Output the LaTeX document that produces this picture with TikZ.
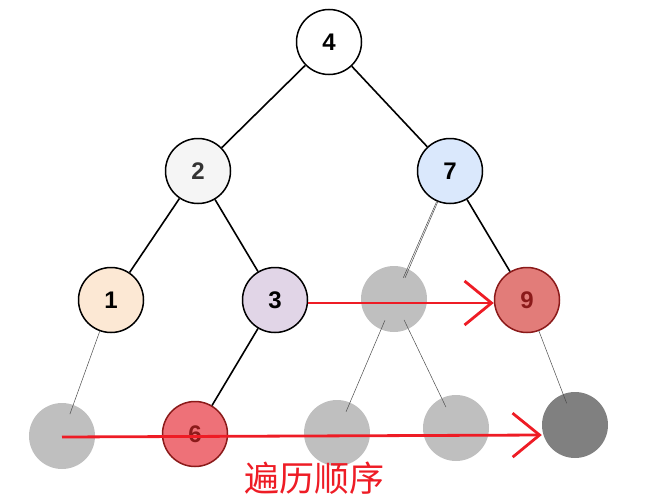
\documentclass[tikz,border=0pt]{standalone}
\usepackage{fontspec}
\setmainfont{Liberation Sans}
\newfontfamily\cjk{Noto Sans CJK SC}
\usetikzlibrary{arrows.meta}
\definecolor{nodered}{HTML}{8B1A1A}
\definecolor{arrowred}{HTML}{EE1C25}

\begin{document}
\begin{tikzpicture}[x=1pt,y=-1pt,
  tnode/.style={circle, draw=black, line width=1.5pt, minimum size=65pt, inner sep=0pt,
    font=\fontsize{24}{28}\selectfont\bfseries},
  rnode/.style={tnode, draw=nodered, text=nodered},
  gnode/.style={circle, fill=gray!50, minimum size=66pt, inner sep=0pt},
  edge/.style={line width=1.6pt},
  thin edge/.style={line width=0.5pt, draw=black!70, shorten >=-10pt},
  order/.style={line width=2.8pt, draw=arrowred, -{Straight Barb[length=27pt, width=44pt]}}]

\useasboundingbox (0,0) rectangle (663,503);

% tree nodes
\node [tnode, fill=white] (n4) at (329,42) {4};
\node [tnode, fill=black!4, text=black!80] (n2) at (198,171) {2};
\node [tnode, fill={rgb,255:red,218;green,232;blue,252}] (n7) at (450,171) {7};
\node [tnode, fill={rgb,255:red,252;green,232;blue,212}] (n1) at (111,300) {1};
\node [tnode, fill={rgb,255:red,225;green,213;blue,231}] (n3) at (275,300) {3};
\node [gnode] (g7) at (394,299) {};
\node [rnode, fill={rgb,255:red,226;green,124;blue,121}] (n9) at (527,300) {9};

\node [gnode] (g1) at (62,436) {};
\node [rnode, fill={rgb,255:red,238;green,113;blue,120}] (n6) at (195,434) {6};
\node [gnode] (g3) at (337,433) {};
\node [gnode] (g4) at (456,428) {};
\node [gnode, fill=gray] (g9) at (575,425) {};

% edges
\draw [edge] (n4) -- (n2);
\draw [edge] (n4) -- (n7);
\draw [edge] (n2) -- (n1);
\draw [edge] (n2) -- (n3);
\draw [edge] (n7) -- (n9);
\draw [edge] (n3) -- (n6);

\draw [thin edge] (n1) -- (g1);
\draw [thin edge] (n7) -- (g7);
\draw [thin edge] ([xshift=1.5pt]n7.246) -- ([xshift=1.5pt]g7.66);
\draw [thin edge, shorten <=-10pt] (g7) -- (g3);
\draw [thin edge, shorten <=-10pt] (g7) -- (g4);
\draw [thin edge] (n9) -- (g9);

% order
\draw [order] ([yshift=-3pt]n3.east) -- ([yshift=-3pt]n9.west);
\draw [order] ([yshift=-1pt]g1.center) -- ([yshift=-10pt]g9.west);
\node [text=arrowred, font=\fontsize{35}{38}\selectfont\cjk] (title) at (314,478) {遍历顺序};
\end{tikzpicture}
\end{document}
